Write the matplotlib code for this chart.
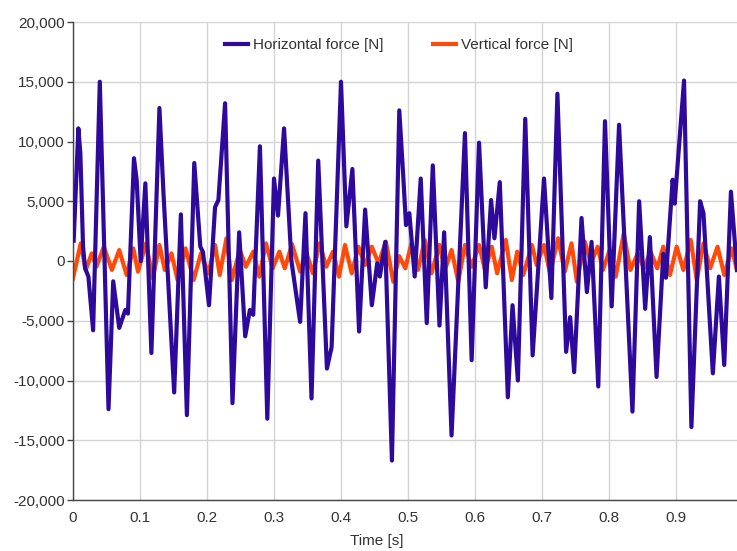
#!/usr/bin/env python

#import modules
import matplotlib.pyplot as plt
from matplotlib.ticker import FuncFormatter

#horizontal force (time [s], force [N])
horiz_t = [0.001, 0.008, 0.011, 0.015, 0.018, 0.023, 0.030, 0.040, 0.053, 0.060,
           0.069, 0.078, 0.082, 0.091, 0.095, 0.101, 0.108, 0.117, 0.129, 0.135,
           0.151, 0.161, 0.170, 0.181, 0.190, 0.194, 0.203, 0.212, 0.217, 0.227,
           0.238, 0.248, 0.257, 0.264, 0.269, 0.279, 0.290, 0.300, 0.306, 0.315,
           0.326, 0.339, 0.347, 0.356, 0.366, 0.379, 0.386, 0.400, 0.408, 0.417,
           0.427, 0.436, 0.446, 0.454, 0.458, 0.466, 0.476, 0.487, 0.493, 0.497,
           0.502, 0.510, 0.519, 0.528, 0.537, 0.547, 0.554, 0.565, 0.585, 0.595,
           0.606, 0.616, 0.624, 0.629, 0.637, 0.649, 0.656, 0.664, 0.675, 0.686,
           0.703, 0.714, 0.723, 0.736, 0.742, 0.748, 0.759, 0.767, 0.774, 0.784,
           0.794, 0.804, 0.815, 0.835, 0.845, 0.854, 0.861, 0.871, 0.881, 0.885,
           0.895, 0.898, 0.912, 0.923, 0.936, 0.941, 0.955, 0.964, 0.972, 0.982,
           0.991]
horiz_f = [1700, 11100, 9000, 1200, -600, -1300, -5800, 15000, -12400, -1700,
           -5600, -4100, -4400, 8600, 6800, 0, 6500, -7700, 12800, 5700,
           -11000, 3900, -12900, 8200, 1200, 750, -3700, 4500, 5100, 13200,
           -11900, 2400, -6300, -4100, -4500, 9600, -13200, 6900, 3800, 11100,
           0, -5100, 4000, -11500, 8400, -9000, -7200, 15000, 2900, 7700,
           -5900, 4300, -3700, -200, -1300, 1600, -16700, 12600, 7000, 3000,
           4000, -1300, 6900, -5200, 8000, -5400, 2400, -14600, 10700, -8300,
           9900, -2200, 5100, 1900, 6600, -11400, -3700, -10000, 11900, -7900,
           6900, -3100, 14000, -7600, -4700, -9300, 3600, -2600, 1600, -10500,
           11700, -3800, 11400, -12600, 5000, -4000, 2000, -9700, 600, -1400,
           6800, 4800, 15100, -13900, 5000, 4000, -9400, -1300, -8700, 5800,
           -750]

#vertical force (time [s], force [N])
vert_t = [0.000, 0.0115, 0.019, 0.028, 0.035, 0.046, 0.058, 0.069, 0.080, 0.090,
          0.097, 0.109, 0.119, 0.129, 0.137, 0.147, 0.156, 0.168, 0.180, 0.191,
          0.202, 0.212, 0.219, 0.229, 0.237, 0.249, 0.258, 0.269, 0.278, 0.288,
          0.298, 0.308, 0.316, 0.327, 0.339, 0.348, 0.358, 0.368, 0.378, 0.388,
          0.397, 0.406, 0.416, 0.426, 0.436, 0.446, 0.456, 0.467, 0.478, 0.487,
          0.496, 0.505, 0.515, 0.525, 0.535, 0.547, 0.555, 0.565, 0.575, 0.585,
          0.595, 0.606, 0.615, 0.625, 0.633, 0.646, 0.655, 0.663, 0.672, 0.685,
          0.692, 0.703, 0.712, 0.724, 0.734, 0.744, 0.752, 0.764, 0.773, 0.783,
          0.791, 0.801, 0.810, 0.822, 0.832, 0.843, 0.852, 0.862, 0.872, 0.881,
          0.891, 0.901, 0.911, 0.922, 0.931, 0.941, 0.951, 0.962, 0.972, 0.983,
          0.991]
vert_f = [-1450, 1480, -750, 640, -480, 1200, -750, 920, -1170, 1060,
          -890, 1480, -1450, 1340, -750, 640, -1590, 1060, -1590, 640,
          -1030, 1340, -1170, 1900, -1590, 920, -480, 780, -1310, 1480,
          -610, 780, -610, 1400, -890, 780, -1030, 1480, -480, 780,
          -1310, 1340, -1030, 1200, -330, 1200, -200, 1620, -1730, 400,
          -610, 1480, -750, 1760, -1030, 1340, -750, 920, -1730, 1340,
          -480, 1340, -750, 1200, -1030, 1760, -1590, 780, -1170, 1340,
          -330, 1340, -1030, 1900, -890, 1480, -1730, 1620, -200, 1200,
          -750, 920, -1310, 2300, -750, 640, -610, 780, -610, 1200,
          -1170, 1200, -750, 1760, -1590, 1480, -610, 1200, -1170, 1060,
          -750]

x_ticks = [0, 0.1, 0.2, 0.3, 0.4, 0.5, 0.6, 0.7, 0.8, 0.9, 1]
x_labels = ["0", "0.1", "0.2", "0.3", "0.4", "0.5", "0.6", "0.7", "0.8", "0.9", "1"]
y_ticks = [-20000, -15000, -10000, -5000, 0, 5000, 10000, 15000, 20000]

plt.rcParams['font.family'] = ['Liberation Sans', 'DejaVu Sans']

fig = plt.figure(figsize=(7.37, 5.51), dpi=100)
#axes runs a little past the right edge, like the reference crop
ax = fig.add_axes([73/737, 51/551, 670/737, 478/551])

ax.plot(vert_t, vert_f, color="#ff4a0a", lw=3, solid_joinstyle="round",
        label="Vertical force [N]", zorder=2)
ax.plot(horiz_t, horiz_f, color="#2e0a9c", lw=3, solid_joinstyle="round",
        label="Horizontal force [N]", zorder=3)

ax.set_xlim(0, 1)
ax.set_ylim(-20000, 20000)
ax.set_xticks(x_ticks)
ax.set_xticklabels(x_labels)
ax.set_yticks(y_ticks)
ax.yaxis.set_major_formatter(FuncFormatter(lambda v, p: f"{int(v):,}"))

#grid and axes styling
ax.grid(True, color="#d4d4d4", lw=1)
ax.set_axisbelow(True)
for s in ["top", "right"]:
    ax.spines[s].set_visible(False)
for s in ["left", "bottom"]:
    ax.spines[s].set_color("#444444")
    ax.spines[s].set_linewidth(1)
ax.tick_params(axis="y", length=4, width=1, color="#444444", pad=2, labelsize=11, labelcolor="#333333")
ax.tick_params(axis="x", length=0, pad=8, labelsize=11, labelcolor="#333333")

fig.text(377/737, 1 - 541/551, "Time [s]", ha="center", va="center", fontsize=11, color="#333333")

#legend in order horizontal, vertical
h, l = ax.get_legend_handles_labels()
fig.legend(h[::-1], l[::-1], loc="center", bbox_to_anchor=(399/737, 1 - 45/551), ncol=2,
           frameon=False, fontsize=11, handlelength=1.5, handletextpad=0.35,
           columnspacing=3.2, labelcolor="#333333")

plt.savefig("out.png", dpi=100)
